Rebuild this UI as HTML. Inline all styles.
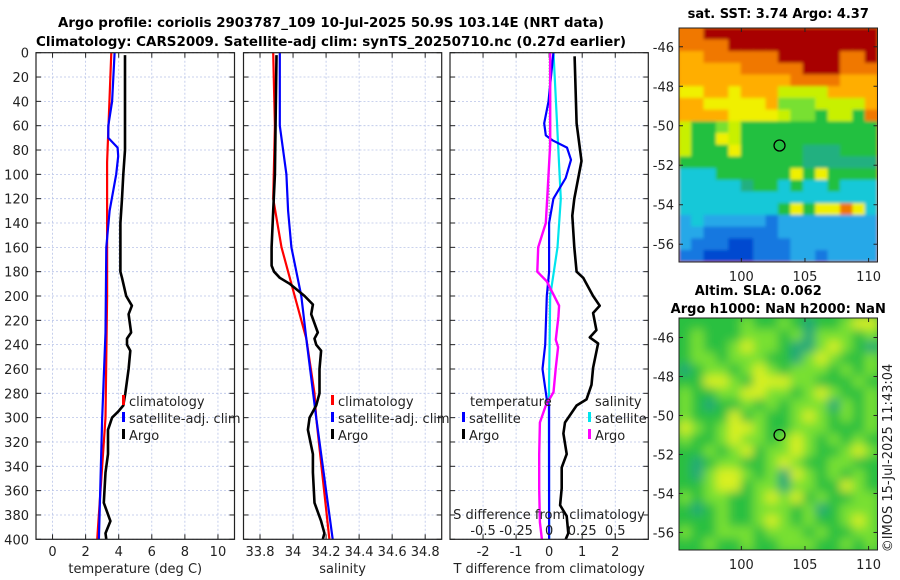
<!DOCTYPE html>
<html><head><meta charset="utf-8">
<style>
html,body{margin:0;padding:0;background:#fff;}
svg{display:block;font-family:"DejaVu Sans","Liberation Sans",sans-serif;}
</style></head>
<body>
<svg id="fig" width="900" height="580" viewBox="0 0 900 580" xmlns="http://www.w3.org/2000/svg">
<rect x="0" y="0" width="900" height="580" fill="#fff"/>
<text x="331" y="27" font-size="13" font-weight="bold" text-anchor="middle" textLength="546" lengthAdjust="spacingAndGlyphs">Argo profile: coriolis 2903787_109 10-Jul-2025 50.9S 103.14E (NRT data)</text>
<text x="331" y="46" font-size="13" font-weight="bold" text-anchor="middle" textLength="590" lengthAdjust="spacingAndGlyphs">Climatology: CARS2009. Satellite-adj clim: synTS_20250710.nc (0.27d earlier)</text>
<g id="layer"></g>
</svg>
<script>
// ---------- data ----------
const depthTicks = [0,20,40,60,80,100,120,140,160,180,200,220,240,260,280,300,320,340,360,380,400];
const tempTicks = [0,2,4,6,8,10];
const salTicks = [33.8,34,34.2,34.4,34.6,34.8];
const tdiffTicks = [-2,-1,0,1,2];
const sdiffTickLabels = ["-0.5","-0.25","0","0.25","0.5"];
const sdiffTicks = [-0.5,-0.25,0,0.25,0.5];

const climTDepth = [0,90,200,300,400];
const climT = [3.55,3.3,3.3,3.2,2.7];
const satTDepth = [0,40,60,70,78,85,100,130,160,230,300,400];
const satT = [3.75,3.6,3.37,3.37,3.93,3.97,3.85,3.45,3.25,3.2,3.0,2.8];
const argoTDepth = [2,80,100,120,140,180,185,200,208,215,230,235,240,245,260,280,290,295,300,310,330,345,370,385,395,400];
const argoT = [4.38,4.38,4.28,4.2,4.1,4.1,4.2,4.45,4.8,4.6,4.75,4.5,4.5,4.7,4.6,4.4,4.28,3.97,3.6,3.35,3.35,3.2,3.1,3.5,3.2,3.25];

const climSDepth = [0,60,120,160,200,235,280,300,350,400];
const climS = [33.88,33.89,33.88,33.93,34.01,34.08,34.13,34.14,34.18,34.22];
const satSDepth = [0,60,80,100,130,160,200,235,300,400];
const satS = [33.92,33.92,33.94,33.96,33.97,33.99,34.05,34.08,34.14,34.24];
const argoSDepth = [2,100,130,160,175,180,185,190,200,207,215,230,235,240,245,260,280,290,300,310,330,345,370,385,395,400];
const argoS = [33.90,33.89,33.88,33.87,33.87,33.885,33.92,33.98,34.07,34.12,34.11,34.15,34.13,34.14,34.17,34.16,34.16,34.14,34.10,34.09,34.12,34.12,34.13,34.17,34.19,34.18];

const dSatTDepth = [0,40,58,68,72,78,88,103,120,140,160,180,200,240,260,285,290,300,400];
const dSatT = [0.13,-0.02,-0.15,-0.1,0.1,0.54,0.66,0.5,0.13,0.0,0.0,0.0,-0.07,-0.12,-0.2,-0.07,0,0,0];
const dArgoTDepth = [3,58,89,120,134,160,180,185,200,208,214,228,234,239,259,273,285,290,304,313,330,341,358,372,381,395,400];
const dArgoT = [0.77,0.83,0.98,0.76,0.7,0.76,0.83,1.03,1.33,1.53,1.33,1.43,1.23,1.48,1.33,1.28,1.13,0.83,0.48,0.43,0.53,0.38,0.38,0.33,0.53,0.58,0.5];
const dSatSDepth = [0,120,160,200,290,400];
const dSatS = [0.033,0.088,0.063,0.008,-0.003,0];
const dArgoSDepth = [0,75,120,140,160,180,188,208,217,236,242,259,279,290,304,330,358,386,400];
const dArgoS = [0.008,0.008,-0.015,-0.025,-0.083,-0.09,-0.018,0.075,0.07,0.05,0.068,0.05,0.033,-0.025,-0.07,-0.075,-0.075,-0.07,-0.055];

const sstRows = [
"OORRRRRRRRRRRRRR","OOOORRRRRRRRRRRR","ooOOOOOORRRRROOR","oooooOOOOORRROOO",
"oooooooooOOOOooo","YYooYoooyyyyoooo","ooYYYYYogggyyyyo","ooooYYYYyggGyyGO",
"yGGgyGGGGGGGGGGG","yGGYyGGGGGGGGGGG","yGGGYGGGGGTTTGGG","GGGGGGGGGGTTTTTT",
"CCCGGGGGGYGYGGGG","CCCCCTGGCGCCGCCC","CCCCCCCCCCCCCCCC","CCCCCCCCGYGYYOYC",
"cCcccccBcccccccc","ccBBBBBBcccccccc","cBBBDDBBBccccccc","BBDDDDBBBccBcccc"];
const slaRows = [
"GGGGGgGGgGTGGgYY","GgGGGgggGgTgggGg","GgGGgYggGTTgYgGT","GggGgggGGTgYgGGg",
"TGggGgYgGgggGgGg","GGYYgGYYYggGGGgG","gGGggYYggGgYgGGg","gGTGGgGgGgggTgGg",
"gGGGYGgGGgYgGgGg","YgGgYYgGGgggGGGg","gGGgYggGgYgGgGgG","GGgGgYGggYgGGgYg",
"GTGggGGgYgGGggGG","GTgYYgGgTYgGgGgG","GGgYYGggTggGGYgG","gGggGGgYgYGgGGgg",
"GTGgGGgggGgTGggg","GGGgGGgYgGgGGgYg","gGGgggGgggGgGGgg","GGgGGgGGgggGGgGg"];
const latTicks = [-46,-48,-50,-52,-54,-56];
const lonTicks = [100,105,110];
const argoLon = 103.0, argoLat = -51.0;

// ---------- helpers ----------
const NS="http://www.w3.org/2000/svg";
const layer=document.getElementById('layer');
function mk(tag,attrs,parent){const e=document.createElementNS(NS,tag);for(const k in attrs)e.setAttribute(k,attrs[k]);(parent||layer).appendChild(e);return e;}
function txt(s,x,y,attrs,parent){const e=mk('text',Object.assign({x:x,y:y,'font-size':13,fill:'#222'},attrs||{}),parent);e.textContent=s;return e;}

const Y0=52.7, Y1=539.3;
function yD(d){return Y0+(d/400)*(Y1-Y0);}
function scaleX(x0,x1,v0,v1){return v=>x0+(v-v0)/(v1-v0)*(x1-x0);}

function panel(name,x0,x1,xs,xticks,xtickLabels,xlabel){
  const g=mk('g',{});
  
  
  depthTicks.forEach(d=>{mk('line',{x1:x0,x2:x1,y1:yD(d),y2:yD(d),stroke:'#b8c4e8','stroke-width':0.8,'stroke-dasharray':'2,2'},g);});
  xticks.forEach(v=>{mk('line',{x1:xs(v),x2:xs(v),y1:Y0,y2:Y1,stroke:'#b8c4e8','stroke-width':0.8,'stroke-dasharray':'2,2'},g);});
  depthTicks.forEach(d=>{mk('line',{x1:x0,x2:x0+5,y1:yD(d),y2:yD(d),stroke:'#222'},g);mk('line',{x1:x1-5,x2:x1,y1:yD(d),y2:yD(d),stroke:'#222'},g);});
  xticks.forEach(v=>{mk('line',{x1:xs(v),x2:xs(v),y1:Y1,y2:Y1-5,stroke:'#222'},g);mk('line',{x1:xs(v),x2:xs(v),y1:Y0,y2:Y0+5,stroke:'#222'},g);});
  xticks.forEach((v,i)=>{const t=txt(xtickLabels[i],xs(v),556,{'text-anchor':'middle'},g);
    
    });
  const xl=txt(xlabel,(x0+x1)/2,573,{'text-anchor':'middle'},g);
  
  
  return g;
}
function frame(x0,x1,g){mk('rect',{x:x0,y:Y0,width:x1-x0,height:Y1-Y0,fill:'none',stroke:'#222','stroke-width':1.2},g);}
function line(xs,depths,vals,color,w,name,g){
  const pts=depths.map((d,i)=>xs(vals[i]).toFixed(1)+','+yD(d).toFixed(1)).join(' ');
  const p=mk('polyline',{points:pts,fill:'none',stroke:color,'stroke-width':w,'stroke-linejoin':'round'},g);
  
  
  return p;
}
function legendItem(x,y,color,label,g){
  mk('rect',{x:x-2,y:y-11,width:3,height:10,fill:color},g);
  const t=txt(label,x+5,y,{},g);
  
  
}

depthTicks.forEach(d=>{const t=txt(String(d),29,yD(d)+5,{'text-anchor':'end'});
  
  });

// ---- Panel 1: temperature ----
const xT=scaleX(36,234.5,-1,11);
const g1=panel('temperature-panel',36,234.5,xT,tempTicks,tempTicks.map(String),'temperature (deg C)');
line(xT,climTDepth,climT,'#f00',2.2,'climatology-temperature-line',g1);
line(xT,satTDepth,satT,'#00f',2.2,'satellite-temperature-line',g1);
line(xT,argoTDepth,argoT,'#000',2.6,'argo-temperature-line',g1);
frame(36,234.5,g1);
legendItem(124,406,'#f00','climatology',g1);
legendItem(124,423,'#00f','satellite-adj. clim',g1);
legendItem(124,440,'#000','Argo',g1);

// ---- Panel 2: salinity ----
const xS=scaleX(243.5,441.7,33.7,34.9);
const g2=panel('salinity-panel',243.5,441.7,xS,salTicks,salTicks.map(String),'salinity');
line(xS,climSDepth,climS,'#f00',2.2,'climatology-salinity-line',g2);
line(xS,satSDepth,satS,'#00f',2.2,'satellite-salinity-line',g2);
line(xS,argoSDepth,argoS,'#000',2.6,'argo-salinity-line',g2);
frame(243.5,441.7,g2);
legendItem(333,406,'#f00','climatology',g2);
legendItem(333,423,'#00f','satellite-adj. clim',g2);
legendItem(333,440,'#000','Argo',g2);

// ---- Panel 3: differences ----
const xD=scaleX(450,648.3,-3,3);
const xDS=scaleX(450,648.3,-0.75,0.75);
const g3=panel('difference-panel',450,648.3,xD,tdiffTicks,tdiffTicks.map(String),'T difference from climatology');
mk('line',{x1:xD(0),x2:xD(0),y1:Y0,y2:yD(250),stroke:'#666','stroke-width':1,'stroke-dasharray':'1,2'},g3);
line(xDS,dSatSDepth,dSatS,'#00e5ee',2.2,'satellite-salinity-diff-line',g3);
line(xD,dSatTDepth,dSatT,'#00f',2.2,'satellite-temperature-diff-line',g3);
line(xDS,dArgoSDepth,dArgoS,'#f0f',2.4,'argo-salinity-diff-line',g3);
line(xD,dArgoTDepth,dArgoT,'#000',2.6,'argo-temperature-diff-line',g3);
frame(450,648.3,g3);
const lt=txt('temperature',470,406,{},g3);


legendItem(464,423,'#00f','satellite',g3);
legendItem(464,440,'#000','Argo',g3);
const ls=txt('salinity',595,406,{},g3);


legendItem(590,423,'#00e5ee','satellite',g3);
legendItem(590,440,'#f0f','Argo',g3);
const st=txt('S difference from climatology',549,519,{'text-anchor':'middle'},g3);


sdiffTicks.forEach((v,i)=>{const t=txt(sdiffTickLabels[i],xDS(v),535,{'text-anchor':'middle'},g3);
  
  });

// ---- Maps ----
const sstCol={R:'#a80000',O:'#f07800',o:'#ffae00',Y:'#f0f000',y:'#c8f000',g:'#78e030',G:'#22c040',T:'#20b080',C:'#18c8d8',c:'#28a8e8',B:'#1878e0',D:'#0048d0'};
const slaCol={G:'#2cc040',g:'#78e030',Y:'#d8f020',T:'#20a878'};
function drawMap(name,x0,y0,x1,y1,latTop,latBot,lonL,lonR,rows,cols,title,blur){
  const g=mk('g',{});
  
  
  const nr=rows.length,nc=rows[0].length,cw=(x1-x0)/nc,ch=(y1-y0)/nr;
  const clipId=name+'-clip';
  const cp=mk('clipPath',{id:clipId},g);mk('rect',{x:x0,y:y0,width:x1-x0,height:y1-y0},cp);
  const cells=mk('g',{'clip-path':'url(#'+clipId+')'},g);
  const inner=mk('g',blur?{filter:'url(#'+blur+')'}:{},cells);
  mk('rect',{x:x0-20,y:y0-20,width:x1-x0+40,height:y1-y0+40,fill:cols[rows[0][0]]},inner);
  rows.forEach((r,i)=>{for(let j=0;j<nc;j++){mk('rect',{x:x0+j*cw-0.3,y:y0+i*ch-0.3,width:cw+0.6,height:ch+0.6,fill:cols[r[j]]},inner);}});
  const lonX=v=>x0+(v-lonL)/(lonR-lonL)*(x1-x0);
  const latY=v=>y0+(latTop-v)/(latTop-latBot)*(y1-y0);
  const c=mk('circle',{cx:lonX(argoLon),cy:latY(argoLat),r:5.5,fill:'none',stroke:'#000','stroke-width':1.3},g);
  
  
  mk('rect',{x:x0,y:y0,width:x1-x0,height:y1-y0,fill:'none',stroke:'#222','stroke-width':1},g);
  latTicks.forEach(v=>{const y=latY(v);mk('line',{x1:x0,x2:x0+4,y1:y,y2:y,stroke:'#222'},g);mk('line',{x1:x1-4,x2:x1,y1:y,y2:y,stroke:'#222'},g);
    const t=txt(String(v),x0-5,y+5,{'text-anchor':'end'},g);
    
    });
  lonTicks.forEach(v=>{const x=lonX(v);mk('line',{x1:x,x2:x,y1:y1,y2:y1-4,stroke:'#222'},g);mk('line',{x1:x,x2:x,y1:y0,y2:y0+4,stroke:'#222'},g);
    const t=txt(String(v),x,y1+19,{'text-anchor':'middle'},g);
    
    });
  title.forEach(([s,ty])=>{const t=txt(s,(x0+x1)/2+(s.startsWith('Altim')?-20:0),ty,{'text-anchor':'middle','font-weight':'bold',fill:'#000'},g);
    
    });
}
const defs=mk('defs',{});
const f=mk('filter',{id:'blurF',x:'-5%',y:'-5%',width:'110%',height:'110%'},defs);
mk('feGaussianBlur',{stdDeviation:5},f);
const f2=mk('filter',{id:'blurS',x:'-5%',y:'-5%',width:'110%',height:'110%'},defs);
mk('feGaussianBlur',{stdDeviation:1.5},f2);
drawMap('sst-map',679,28,877.5,262,-45.05,-56.9,95.1,110.7,sstRows,sstCol,[['sat. SST: 3.74 Argo: 4.37',18]],'blurS');
drawMap('sla-map',679,318,877.5,550,-45.0,-56.9,95.1,110.7,slaRows,slaCol,[['Altim. SLA: 0.062',295],['Argo h1000: NaN h2000: NaN',313]],'blurF');
const cr=txt('©IMOS 15-Jul-2025 11:43:04',0,0,{'text-anchor':'middle',transform:'translate(892,458) rotate(-90)'});


</script>
</body></html>
